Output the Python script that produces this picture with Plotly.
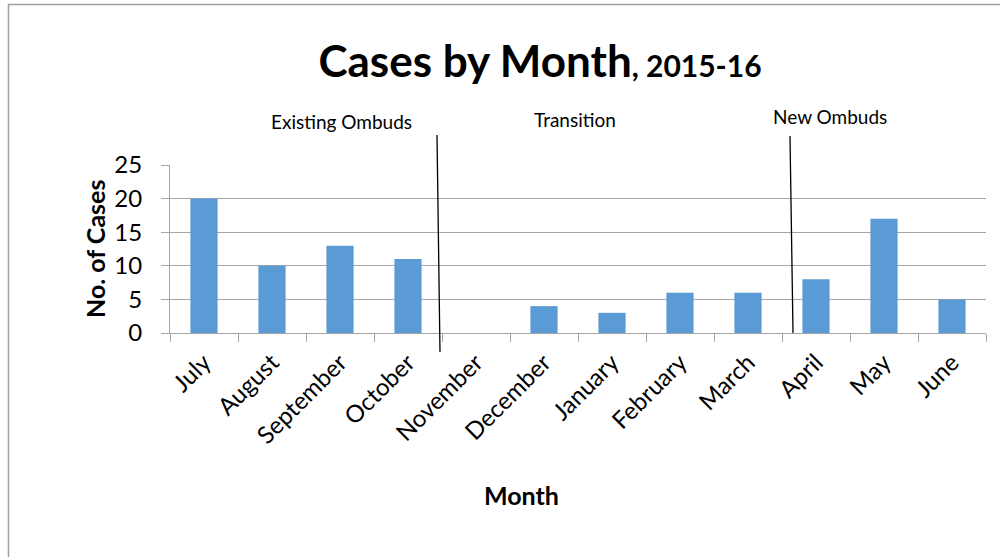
import plotly.graph_objects as go

months = ["July", "August", "September", "October", "November", "December",
          "January", "February", "March", "April", "May", "June"]
cases = [20, 10, 13, 11, 0, 4, 3, 6, 6, 8, 17, 5]
y_ticks = [0, 5, 10, 15, 20, 25]
period_labels = ["Existing Ombuds", "Transition", "New Ombuds"]

FONT = "Lato"
GRID = "#a6a6a6"

W, H = 1000, 557
PL, PR, PT, PB = 170, 986, 165, 333  # plot area in screen px

fig = go.Figure()
fig.add_trace(go.Bar(x=months, y=cases, marker=dict(color="#5b9bd5", line=dict(width=0)),
                     width=0.4))

fig.update_layout(
    width=W, height=H,
    margin=dict(l=PL, r=W - PR, t=PT, b=H - PB),
    paper_bgcolor="white", plot_bgcolor="white",
    showlegend=False,
    font=dict(family=FONT, color="black"),
    title=dict(
        text="<b>Cases by Month</b><b><span style='font-size:30px'>, 2015-16</span></b>",
        font=dict(family=FONT, size=44, color="black"),
        x=540 / W, xanchor="center", y=1 - 62 / H, yanchor="middle",
    ),
)

fig.update_xaxes(
    type="category", tickson="boundaries", ticks="outside", ticklen=8, tickcolor=GRID,
    tickangle=-45, tickfont=dict(size=24, family=FONT), ticklabelstandoff=5,
    showline=True, linecolor=GRID, linewidth=1, showgrid=False,
)
fig.update_yaxes(
    range=[0, 25], tickvals=y_ticks, ticks="outside", ticklen=8, tickcolor=GRID,
    tickfont=dict(size=24, family=FONT), ticklabelstandoff=14,
    showline=True, linecolor=GRID, linewidth=1,
    showgrid=True, gridcolor=GRID, gridwidth=1, zeroline=False,
)


def px_x(v):
    return (v - PL) / (PR - PL)


def px_y(v):
    return (PB - v) / (PB - PT)


# axis titles
fig.add_annotation(text="<b>No. of Cases</b>", textangle=-90, xref="paper", yref="paper",
                   x=px_x(95), y=0.5, showarrow=False,
                   font=dict(size=25, family=FONT), xanchor="center", yanchor="middle")
fig.add_annotation(text="<b>Month</b>", xref="paper", yref="paper",
                   x=px_x(521), y=px_y(495), showarrow=False,
                   font=dict(size=25, family=FONT), xanchor="center", yanchor="middle")

# period labels
label_pos = [(341, 121), (575, 119), (830, 117)]
for txt, (px, py) in zip(period_labels, label_pos):
    fig.add_annotation(text=txt, xref="paper", yref="paper",
                       x=px_x(px), y=px_y(py), showarrow=False,
                       font=dict(size=19, family=FONT), xanchor="center", yanchor="middle")

# divider lines
fig.add_shape(type="line", xref="paper", yref="paper",
              x0=px_x(437), y0=px_y(135), x1=px_x(440), y1=px_y(352),
              line=dict(color="black", width=1.3))
fig.add_shape(type="line", xref="paper", yref="paper",
              x0=px_x(790), y0=px_y(136), x1=px_x(793), y1=px_y(333),
              line=dict(color="black", width=1.3))

# outer chart border
fig.add_shape(type="rect", xref="paper", yref="paper",
              x0=px_x(8.5), y0=px_y(620), x1=px_x(1060), y1=px_y(4.5),
              line=dict(color="#a0a0a0", width=1.5), fillcolor="rgba(0,0,0,0)", layer="below")

fig.write_html("out.html", config={"displayModeBar": False},
               post_script="document.body.style.margin='0';document.body.style.overflow='hidden';")
